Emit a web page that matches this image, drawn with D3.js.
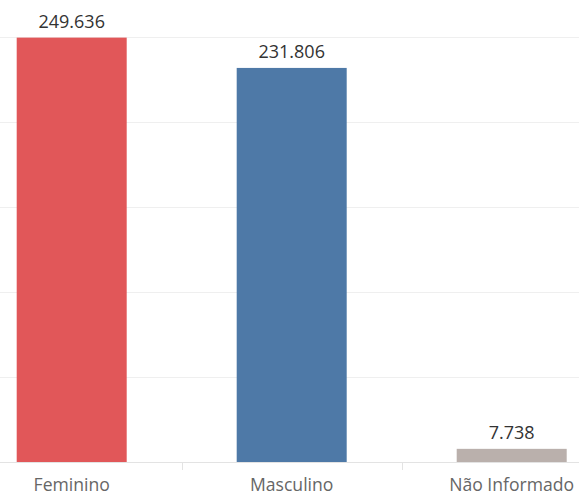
<!DOCTYPE html>
<html>
<head>
<meta charset="utf-8">
<script src="https://cdn.jsdelivr.net/npm/d3@7"></script>
<style>
html,body{margin:0;padding:0;background:#fff;}
svg{display:block;}
</style>
</head>
<body>
<svg id="chart" width="579" height="495"></svg>
<script>
const categories = ["Feminino", "Masculino", "Não Informado"];
const values = [249636, 231806, 7738];
const valueLabels = ["249.636", "231.806", "7.738"];
const colors = ["#e15759", "#4e79a7", "#bab0ac"];
const gridValues = [0, 50000, 100000, 150000, 200000, 250000];

const svg = d3.select("#chart");
const W = 579;

const x = d3.scaleBand()
  .domain(categories)
  .range([-38.3, 621.7])
  .paddingInner(0.5)
  .paddingOuter(0.25);

const y = d3.scaleLinear()
  .domain([0, 250000])
  .range([462, 37]);

// gridlines
svg.append("g")
  .selectAll("line")
  .data(gridValues)
  .join("line")
  .attr("x1", 0).attr("x2", W)
  .attr("y1", d => Math.round(y(d)) + 0.5)
  .attr("y2", d => Math.round(y(d)) + 0.5)
  .attr("stroke", d => d === 0 ? "#e3e3e3" : "#efefef")
  .attr("stroke-width", 1);

// separators between categories
const bounds = categories.slice(1).map(c => x(c) - x.step() * x.paddingInner() / 2);
svg.append("g")
  .selectAll("line")
  .data(bounds)
  .join("line")
  .attr("x1", d => Math.round(d) + 0.5).attr("x2", d => Math.round(d) + 0.5)
  .attr("y1", y(0)).attr("y2", y(0) + 8)
  .attr("stroke", "#e3e3e3");

// bars
svg.append("g")
  .selectAll("rect")
  .data(categories)
  .join("rect")
  .attr("x", d => x(d))
  .attr("width", x.bandwidth())
  .attr("y", (d, i) => y(values[i]))
  .attr("height", (d, i) => y(0) - y(values[i]))
  .attr("fill", (d, i) => colors[i]);

// value labels
svg.append("g")
  .selectAll("text")
  .data(categories)
  .join("text")
  .attr("x", d => x(d) + x.bandwidth() / 2)
  .attr("y", (d, i) => y(values[i]) - 9.5)
  .attr("text-anchor", "middle")
  .attr("font-family", "'Open Sans', sans-serif")
  .attr("font-size", 18)
  .attr("fill", "#333")
  .text((d, i) => valueLabels[i]);

// category labels
svg.append("g")
  .selectAll("text")
  .data(categories)
  .join("text")
  .attr("x", d => x(d) + x.bandwidth() / 2)
  .attr("y", 490.5)
  .attr("text-anchor", "middle")
  .attr("font-family", "'Open Sans', sans-serif")
  .attr("font-size", 17.6)
  .attr("fill", "#666")
  .text(d => d);
</script>
</body>
</html>
